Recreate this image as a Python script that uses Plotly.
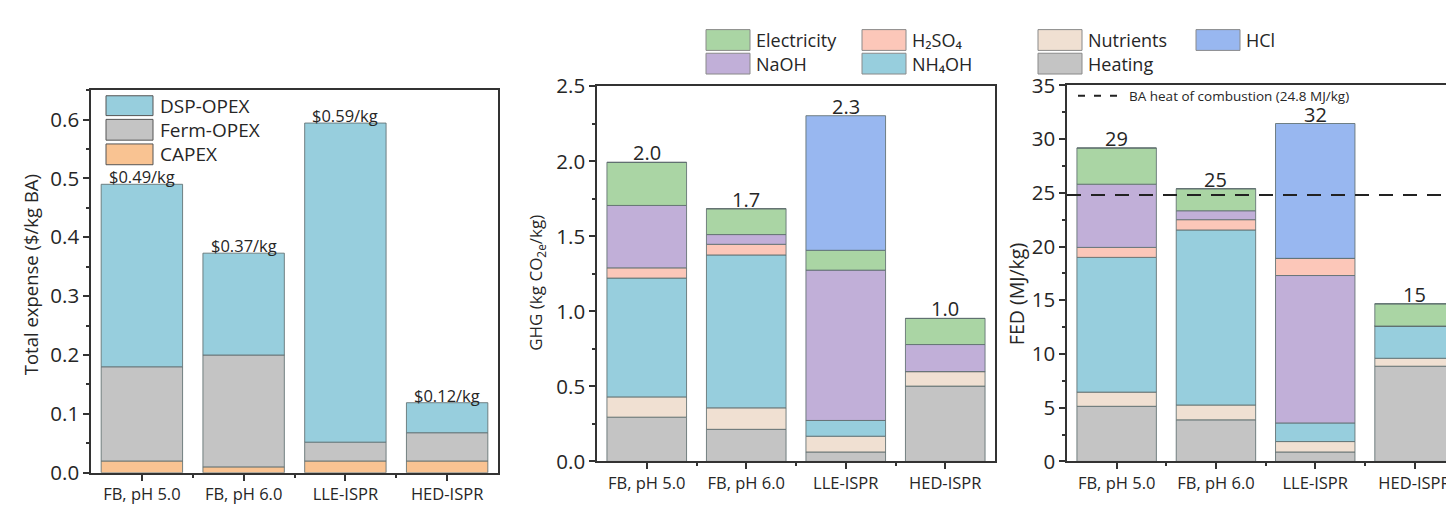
import plotly.graph_objects as go

W, H = 1454, 508
FONT = "Open Sans"

categories = ["FB, pH 5.0", "FB, pH 6.0", "LLE-ISPR", "HED-ISPR"]

# Panel 1: cost breakdown ($/kg BA)
capex = [0.02, 0.01, 0.02, 0.02]
ferm_opex = [0.16, 0.19, 0.032, 0.048]
dsp_opex = [0.31, 0.173, 0.542, 0.051]
cost_labels = ["$0.49/kg", "$0.37/kg", "$0.59/kg", "$0.12/kg"]

# Panel 2: GHG (kg CO2e/kg)
ghg_heating = [0.295, 0.214, 0.063, 0.502]
ghg_nutrients = [0.135, 0.143, 0.105, 0.097]
ghg_nh4oh = [0.792, 1.019, 0.105, 0.0]
ghg_h2so4 = [0.068, 0.071, 0.0, 0.0]
ghg_naoh = [0.416, 0.065, 1.002, 0.18]
ghg_electricity = [0.287, 0.172, 0.132, 0.174]
ghg_hcl = [0.0, 0.0, 0.897, 0.0]
ghg_labels = ["2.0", "1.7", "2.3", "1.0"]

# Panel 3: FED (MJ/kg)
fed_heating = [5.13, 3.87, 0.88, 8.86]
fed_nutrients = [1.32, 1.38, 0.97, 0.74]
fed_nh4oh = [12.54, 16.29, 1.73, 3.0]
fed_h2so4 = [0.93, 0.96, 1.6, 0.0]
fed_naoh = [5.88, 0.83, 13.72, 0.0]
fed_electricity = [3.37, 2.05, 0.0, 2.07]
fed_hcl = [0.0, 0.0, 12.55, 0.0]
fed_labels = ["29", "25", "32", "15"]
ba_heat_of_combustion = 24.8

# stacking order (bottom -> top) per category
default_order = ["Heating", "Nutrients", "NH4OH", "H2SO4", "NaOH", "Electricity", "HCl"]
fed_order = [default_order, default_order,
             ["Heating", "Nutrients", "NH4OH", "NaOH", "H2SO4", "Electricity", "HCl"],
             default_order]

colors = {
    "DSP-OPEX": "#97cedd", "Ferm-OPEX": "#c4c4c4", "CAPEX": "#f9c392",
    "Electricity": "#aad5a4", "H2SO4": "#fcc7b9", "Nutrients": "#f0e0d2",
    "HCl": "#98b7f0", "NaOH": "#c1afd8", "NH4OH": "#97cedd", "Heating": "#c4c4c4",
}
EDGE = "rgba(95,110,112,0.85)"
TXT = "#262626"

fig = go.Figure()


def px(x):
    return x / W


def py(y):
    return 1 - y / H


def add_stack(series, orders, xa, ya):
    n = len(categories)
    for name in series:
        vals = series[name]
        base = []
        for i in range(n):
            order = orders[i]
            b = 0.0
            for comp in order[:order.index(name)]:
                b += series[comp][i] if comp in series else 0.0
            base.append(b)
        fig.add_trace(go.Bar(
            x=list(range(n)), y=vals, base=base, width=0.8, name=name,
            marker=dict(color=colors[name], line=dict(color=EDGE, width=1)),
            xaxis=xa, yaxis=ya, showlegend=False, hoverinfo="name+y"))


cost_series = {"CAPEX": capex, "Ferm-OPEX": ferm_opex, "DSP-OPEX": dsp_opex}
add_stack(cost_series, [["CAPEX", "Ferm-OPEX", "DSP-OPEX"]] * 4, "x", "y")

ghg_series = {"Heating": ghg_heating, "Nutrients": ghg_nutrients, "NH4OH": ghg_nh4oh,
              "H2SO4": ghg_h2so4, "NaOH": ghg_naoh, "Electricity": ghg_electricity,
              "HCl": ghg_hcl}
add_stack(ghg_series, [default_order] * 4, "x2", "y2")

fed_series = {"Heating": fed_heating, "Nutrients": fed_nutrients, "NH4OH": fed_nh4oh,
              "H2SO4": fed_h2so4, "NaOH": fed_naoh, "Electricity": fed_electricity,
              "HCl": fed_hcl}
add_stack(fed_series, fed_order, "x3", "y3")

# total labels
annotations = []
for series, labels, xr, yr, size in [(cost_series, cost_labels, "x", "y", 16.5),
                                     (ghg_series, ghg_labels, "x2", "y2", 20),
                                     (fed_series, fed_labels, "x3", "y3", 20)]:
    for i, lab in enumerate(labels):
        tot = sum(series[k][i] for k in series)
        annotations.append(dict(x=i, y=tot, xref=xr, yref=yr, text=lab, showarrow=False,
                                yanchor="bottom", yshift=-6,
                                font=dict(size=size, color=TXT, family=FONT)))

axis_common = dict(showgrid=False, zeroline=False, showline=True, linecolor="#333",
                   linewidth=1.5, ticks="outside", tickcolor="#333", ticklen=6,
                   tickwidth=1.5, tickfont=dict(size=20.5, color=TXT, family=FONT))
x_common = dict(axis_common, tickvals=[0, 1, 2, 3], ticktext=categories,
                tickfont=dict(size=16.5, color=TXT, family=FONT),
                minor=dict(tickvals=[0.5, 1.5, 2.5], ticks="outside", ticklen=3,
                           tickcolor="#333", tickwidth=1.5))
y_minor = dict(ticks="outside", ticklen=3, tickcolor="#333", tickwidth=1.5)

fig.update_layout(
    width=W, height=H, margin=dict(l=0, r=0, t=0, b=0),
    plot_bgcolor="white", paper_bgcolor="white", barmode="overlay",
    font=dict(family=FONT, color=TXT),
    xaxis=dict(x_common, domain=[px(83), px(490)], range=[-0.5, 3.5], mirror=True,
               anchor="y"),
    yaxis=dict(axis_common, domain=[py(476), py(71)], range=[0, 0.65], dtick=0.1,
               tickformat=".1f", mirror=True, anchor="x",
               minor=dict(y_minor, dtick=0.05)),
    xaxis2=dict(x_common, domain=[px(589), px(987)], range=[-0.5, 3.5], mirror=True,
                anchor="y2"),
    yaxis2=dict(axis_common, domain=[py(464), py(67)], range=[0, 2.5], dtick=0.5,
                tickformat=".1f", mirror=True, anchor="x2",
                minor=dict(y_minor, dtick=0.25)),
    xaxis3=dict(x_common, domain=[px(1059), 1.0], range=[-0.5, 3.478], mirror=True,
                anchor="y3"),
    yaxis3=dict(axis_common, domain=[py(464), py(66)], range=[0, 35], dtick=5,
                anchor="x3", minor=dict(y_minor, dtick=2.5)),
)

shapes = []
# dashed reference line in FED panel
shapes.append(dict(type="line", xref="x3", yref="y3", x0=-0.5, x1=3.478,
                   y0=ba_heat_of_combustion, y1=ba_heat_of_combustion,
                   line=dict(color="#222", width=2, dash="14px,10px")))
shapes.append(dict(type="line", xref="paper", yref="paper", x0=px(1070), x1=px(1118),
                   y0=py(77), y1=py(77), line=dict(color="#222", width=2, dash="7px,9px")))
annotations.append(dict(x=px(1119), y=py(77), xref="paper", yref="paper",
                        text="BA heat of combustion (24.8 MJ/kg)", showarrow=False,
                        xanchor="left", yanchor="middle",
                        font=dict(size=13.5, color=TXT, family=FONT)))

# legend for cost panel (custom swatches)
cost_leg = [("DSP-OPEX", 77, 98), ("Ferm-OPEX", 102, 124), ("CAPEX", 128, 150)]
for name, y0, y1 in cost_leg:
    shapes.append(dict(type="rect", xref="paper", yref="paper", x0=px(98), x1=px(145),
                       y0=py(y1), y1=py(y0), fillcolor=colors[name],
                       line=dict(color="#555", width=1)))
    annotations.append(dict(x=px(151), y=py((y0 + y1) / 2), xref="paper", yref="paper",
                            text=name, showarrow=False, xanchor="left", yanchor="middle",
                            borderpad=0,
                            font=dict(size=19, color=TXT, family=FONT)))

# top legend for GHG/FED panels
leg_items = [("Electricity", "Electricity", 698, 0), ("H2SO4", "H₂SO₄", 854, 0),
             ("Nutrients", "Nutrients", 1030, 0), ("HCl", "HCl", 1188, 0),
             ("NaOH", "NaOH", 698, 1), ("NH4OH", "NH₄OH", 854, 1),
             ("Heating", "Heating", 1030, 1)]
rows = [(7, 29), (32, 54)]
for key, label, x0, r in leg_items:
    y0, y1 = rows[r]
    shapes.append(dict(type="rect", xref="paper", yref="paper", x0=px(x0), x1=px(x0 + 44),
                       y0=py(y1), y1=py(y0), fillcolor=colors[key],
                       line=dict(color="#8a8a8a", width=1)))
    annotations.append(dict(x=px(x0 + 49), y=py((y0 + y1) / 2), xref="paper", yref="paper",
                            text=label, showarrow=False, xanchor="left", yanchor="middle",
                            borderpad=0,
                            font=dict(size=18, color=TXT, family=FONT)))

# axis titles
for text, x, y, size in [("Total expense ($/kg BA)", 22, 267, 18.5),
                         ("GHG (kg CO<sub>2e</sub>/kg)", 529, 275, 17),
                         ("FED (MJ/kg)", 1008, 287, 19.5)]:
    annotations.append(dict(x=px(x), y=py(y), xref="paper", yref="paper", text=text,
                            textangle=-90, showarrow=False, xanchor="center",
                            yanchor="middle", font=dict(size=size, color=TXT, family=FONT)))

fig.update_layout(shapes=shapes, annotations=annotations)
fig.write_html("out.html")
